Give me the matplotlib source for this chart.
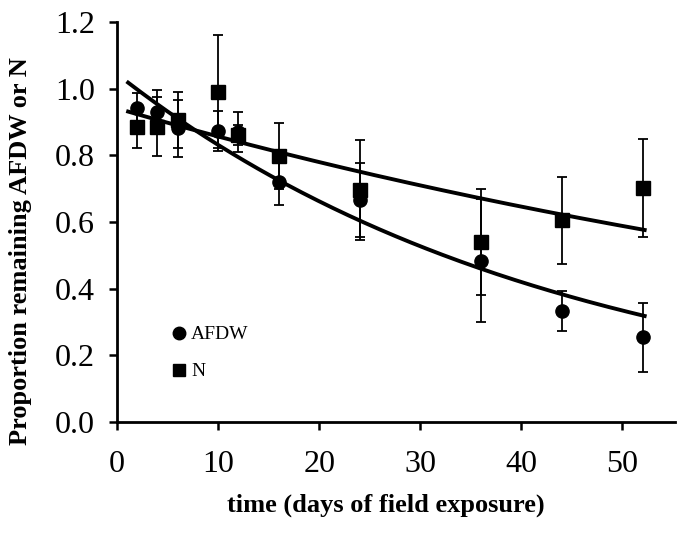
import numpy as np
import matplotlib
matplotlib.use("Agg")
import matplotlib.pyplot as plt
from matplotlib.lines import Line2D

plt.rcParams['font.family'] = ['Liberation Serif', 'DejaVu Serif']

days = [2, 4, 6, 10, 12, 16, 24, 36, 44, 52]
afdw = [0.943, 0.931, 0.881, 0.874, 0.870, 0.721, 0.666, 0.484, 0.333, 0.254]
afdw_err = [0.043, 0.065, 0.085, 0.06, 0.06, 0.07, 0.112, 0.185, 0.06, 0.103]
nitro = [0.886, 0.886, 0.906, 0.991, 0.860, 0.798, 0.696, 0.540, 0.605, 0.702]
nitro_err = [0.065, 0.088, 0.085, 0.17, 0.03, 0.098, 0.15, 0.16, 0.13, 0.148]

# exponential fits y = a * exp(-k t)
afdw_fit = (1.044, 0.02277)
nitro_fit = (0.941, 0.0094)
fit_range = (1.1, 52.2)

xticks = [0, 10, 20, 30, 40, 50]
yticks = [0.0, 0.2, 0.4, 0.6, 0.8, 1.0, 1.2]

fig = plt.figure(figsize=(6.79, 5.39), dpi=100)
ax = fig.add_axes([117/679, 1-422/539, (675-117)/679, (422-22)/539])

t = np.linspace(fit_range[0], fit_range[1], 200)
ax.plot(t, afdw_fit[0]*np.exp(-afdw_fit[1]*t), color='black', lw=2.8, zorder=4)
ax.plot(t, nitro_fit[0]*np.exp(-nitro_fit[1]*t), color='black', lw=2.8, zorder=4)

ax.errorbar(days, nitro, yerr=nitro_err, fmt='s', color='black', ms=9.5,
            elinewidth=1.3, capsize=3.5, capthick=1.3, zorder=3)
ax.errorbar(days, afdw, yerr=afdw_err, fmt='o', color='black', ms=9.5,
            elinewidth=1.3, capsize=3.5, capthick=1.3, zorder=3)

ax.set_xlim(0, 55.2)
ax.set_ylim(0, 1.2)
ax.set_xticks(xticks)
ax.set_yticks(yticks)
ax.set_xticklabels([str(v) for v in xticks])
ax.set_yticklabels([f"{v:.1f}" for v in yticks])
for s in ['top', 'right']:
    ax.spines[s].set_visible(False)
for s in ['left', 'bottom']:
    ax.spines[s].set_linewidth(2.0)
ax.tick_params(direction='out', length=6, width=1.8, labelsize=23, pad=10)
ax.tick_params(axis='x', pad=14)

ax.set_xlabel('time (days of field exposure)', fontsize=19, fontweight='bold')
ax.set_ylabel('Proportion remaining AFDW or N', fontsize=19, fontweight='bold')
ax.xaxis.set_label_coords(0.482, -0.18)
ax.yaxis.set_label_coords(-0.152, 0.4275)

handles = [Line2D([], [], marker='o', ls='none', color='black', ms=9),
           Line2D([], [], marker='s', ls='none', color='black', ms=9)]
leg = ax.legend(handles, ['AFDW', 'N'], loc='upper left', bbox_to_anchor=(0.084, 0.265),
                frameon=False, fontsize=14, handlelength=0.6, handletextpad=0.3,
                labelspacing=1.0, borderpad=0)

fig.savefig('out.png', dpi=100)
